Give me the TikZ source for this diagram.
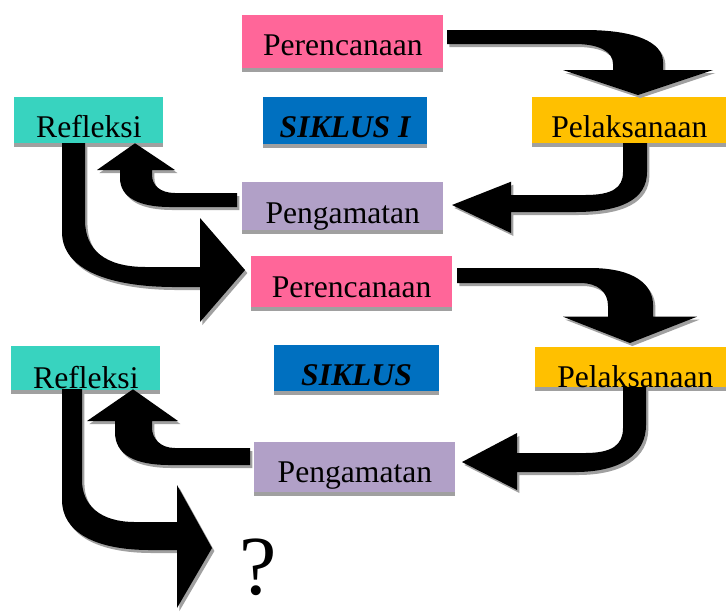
\documentclass[tikz,border=0pt]{standalone}
\usepackage{fontspec}
\setmainfont{Liberation Serif}
\usetikzlibrary{shadows}
\definecolor{pinkc}{HTML}{FF6699}
\definecolor{tealc}{HTML}{38D3BF}
\definecolor{bluec}{HTML}{0070C0}
\definecolor{orangec}{HTML}{FFC000}
\definecolor{lavc}{HTML}{B1A0C7}
\definecolor{shadc}{HTML}{A0A0A0}
\tikzset{
  stagebox/.style={draw=none, inner sep=0pt, anchor=north west,
    font=\fontsize{15.8}{18}\selectfont, text depth=0pt,
    drop shadow={shadow xshift=0pt, shadow yshift=-2pt, fill=shadc, opacity=1}},
  boldit/.style={font=\fontsize{15.8}{18}\selectfont\bfseries\itshape},
  sz/.style 2 args={minimum width=#1*0.5pt, minimum height=#2*0.5pt},
  bl/.style={text height=#1pt},
  blockarrow/.style={fill=black, draw=none,
    drop shadow={shadow xshift=1.2pt, shadow yshift=-1.5pt, fill=shadc, opacity=1}},
}
\begin{document}
\begin{tikzpicture}[x=0.5pt,y=-0.5pt]
\useasboundingbox (0,0) rectangle (726,612);
\clip (0,0) rectangle (726,612);
\fill[white] (0,0) rectangle (726,612);

% stage boxes
\node[stagebox, fill=pinkc, sz={201}{53}, bl=13.5] (per1) at (242,15) {Perencanaan};
\node[stagebox, fill=tealc, sz={149}{46}, bl=17] (ref1) at (14,97) {Refleksi};
\node[stagebox, boldit, fill=bluec, sz={164}{46.6}, bl=16.7] (sik1) at (262.7,96.7) {SIKLUS I};
\node[stagebox, fill=orangec, sz={194}{46}, bl=17.3] (pel1) at (532,96.7) {Pelaksanaan};
\node[stagebox, fill=lavc, sz={200.7}{48.3}, bl=17.5] (pen1) at (242,181.7) {Pengamatan};
\node[stagebox, fill=pinkc, sz={201}{50.7}, bl=15.4] (per2) at (250.7,256) {Perencanaan};
\node[stagebox, boldit, fill=bluec, sz={164.3}{45.7}, bl=17.2] (sik2) at (274,345) {SIKLUS};
\node[stagebox, fill=tealc, sz={149}{43.3}, bl=20.5] (ref2) at (11,346) {Refleksi};
\node[stagebox, fill=orangec, sz={200}{40}, bl=20] (pel2) at (535,346.7) {Pelaksanaan};
\node[stagebox, fill=lavc, sz={201}{50}, bl=15] (pen2) at (254,441.7) {Pengamatan};
\node[font=\fontsize{42}{44}\selectfont, anchor=base, inner sep=0pt] (q) at (258,594) {?};

% A: Perencanaan 1 -> Pelaksanaan 1
\path[blockarrow] (447,30) -- (585,30) .. controls (635,30) and (663,42) .. (663,62) -- (663,70)
  -- (713,70) -- (638,95) -- (563,70) -- (613,70) -- (613,64)
  .. controls (613,52) and (600,44) .. (575,44) -- (447,44) -- cycle;
% B: Pelaksanaan 1 -> Pengamatan 1
\path[blockarrow] (647,143) -- (647,172) .. controls (647,200) and (620,212) .. (575,212) -- (511,212)
  -- (511,233) -- (452,205) -- (511,181.7) -- (511,195) -- (585,195)
  .. controls (612,195) and (623,188) .. (623,172) -- (623,143) -- cycle;
% C: Pengamatan 1 -> Refleksi 1
\path[blockarrow] (237,193) -- (175,193) .. controls (160,193) and (152,185) .. (152,175) -- (152,170)
  -- (175,170) -- (135,143.3) -- (97,170) -- (120,170) -- (120,178)
  .. controls (120,198) and (140,207) .. (170,207) -- (237,207) -- cycle;
% D: Refleksi 1 -> Perencanaan 2
\path[blockarrow] (62,143) -- (62,232) .. controls (62,270) and (110,287) .. (175,287) -- (200,287)
  -- (200,322) -- (245,270) -- (200,218) -- (200,267) -- (146,267)
  .. controls (105,267) and (85,250) .. (85,220) -- (85,143) -- cycle;
% E: Perencanaan 2 -> Pelaksanaan 2
\path[blockarrow] (457,268) -- (590,268) .. controls (635,268) and (653,285) .. (653,305) -- (653,316.7)
  -- (697,316.7) -- (630,343) -- (563,316.7) -- (608,316.7) -- (608,306)
  .. controls (608,292) and (598,283) .. (580,283) -- (457,283) -- cycle;
% F: Pelaksanaan 2 -> Pengamatan 2
\path[blockarrow] (646,387) -- (646,425) .. controls (646,455) and (620,472) .. (575,472) -- (517,472)
  -- (517,490) -- (462,462) -- (517,433) -- (517,453) -- (585,453)
  .. controls (612,453) and (623,445) .. (623,428) -- (623,387) -- cycle;
% G: Pengamatan 2 -> Refleksi 2
\path[blockarrow] (250,448) -- (175,448) .. controls (160,448) and (152,438) .. (152,428) -- (152,421)
  -- (178,421) -- (133,389.3) -- (87,421) -- (115,421) -- (115,432)
  .. controls (115,455) and (135,465) .. (170,465) -- (250,465) -- cycle;
% H: Refleksi 2 -> ?
\path[blockarrow] (62,389) -- (62,500) .. controls (62,532) and (95,550) .. (150,550) -- (177,550)
  -- (177,608) -- (212,548) -- (177,485) -- (177,522) -- (135,522)
  .. controls (100,522) and (82,505) .. (82,480) -- (82,389) -- cycle;
\end{tikzpicture}
\end{document}
